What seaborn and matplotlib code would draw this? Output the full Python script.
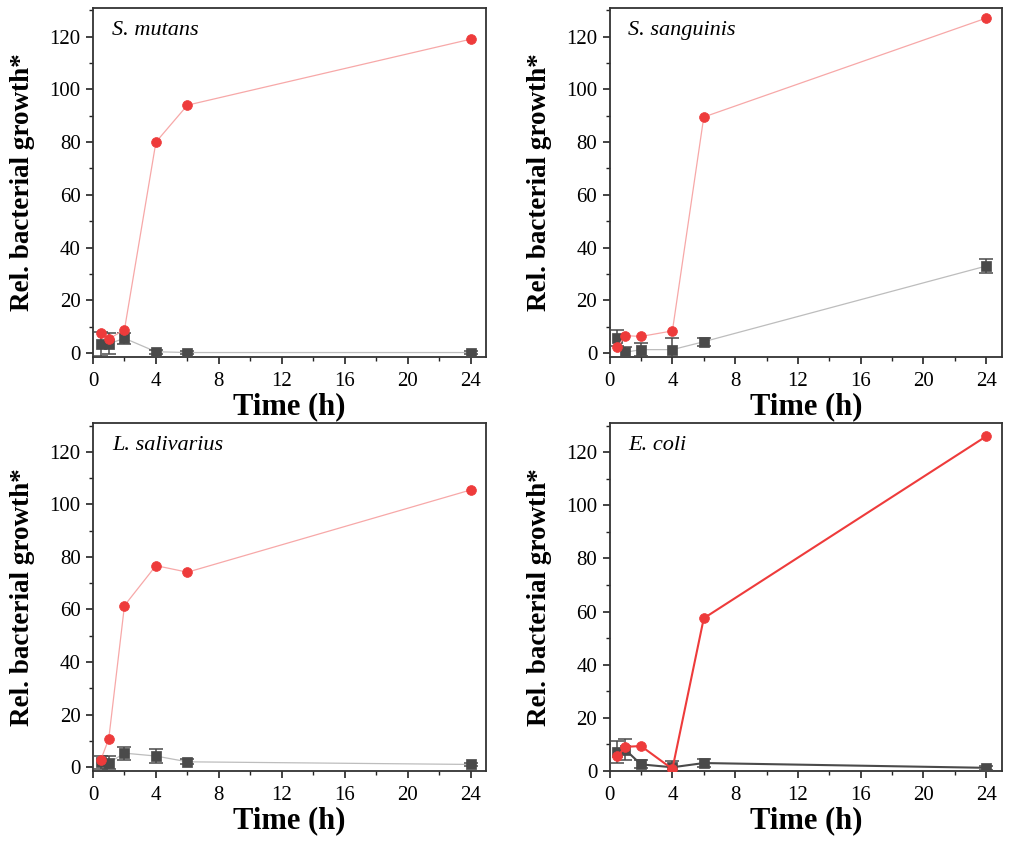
import numpy as np
import pandas as pd
import matplotlib
matplotlib.use("Agg")
import matplotlib.pyplot as plt
import seaborn as sns
from matplotlib.ticker import MultipleLocator

sns.set_theme(style="ticks")
plt.rcParams['font.family'] = ['Liberation Serif', 'DejaVu Serif']
plt.rcParams['text.color'] = 'black'
plt.rcParams['axes.labelcolor'] = 'black'

time_h = [0.5, 1, 2, 4, 6, 24]
species = ["S. mutans", "S. sanguinis", "L. salivarius", "E. coli"]

red_mutans = [7.6, 5.3, 8.9, 80.0, 94.0, 119.0]
gray_mutans = [3.3, 3.5, 5.6, 0.5, 0.2, 0.2]
gray_mutans_err = [4.5, 4.0, 2.0, 0.8, 0.6, 0.5]

red_sanguinis = [2.3, 6.6, 6.3, 8.4, 89.5, 127.0]
gray_sanguinis = [5.8, 0.3, 1.3, 1.3, 4.3, 33.0]
gray_sanguinis_err = [3.0, 2.0, 2.5, 4.5, 1.5, 2.5]

red_salivarius = [2.8, 10.7, 61.5, 76.7, 74.2, 105.5]
gray_salivarius = [1.9, 1.6, 5.3, 4.2, 2.0, 1.0]
gray_salivarius_err = [2.5, 2.5, 2.5, 2.5, 1.0, 0.7]

red_ecoli = [5.5, 9.1, 9.4, 0.75, 57.5, 126.0]
gray_ecoli = [7.2, 8.0, 2.5, 1.4, 3.0, 1.2]
gray_ecoli_err = [4.0, 4.0, 1.5, 2.5, 1.5, 0.8]

panels = [
    (species[0], red_mutans, gray_mutans, gray_mutans_err),
    (species[1], red_sanguinis, gray_sanguinis, gray_sanguinis_err),
    (species[2], red_salivarius, gray_salivarius, gray_salivarius_err),
    (species[3], red_ecoli, gray_ecoli, gray_ecoli_err),
]

RED = "#EE3B3B"
DARK = "#4A4A4A"

fig = plt.figure(figsize=(10.11, 8.43), dpi=100)
positions = [
    [0.092, 0.5765, 0.389, 0.4145],
    [0.603, 0.5765, 0.388, 0.4145],
    [0.092, 0.0854, 0.389, 0.4128],
    [0.603, 0.0854, 0.388, 0.4128],
]

for i, (name, red, gray, gerr) in enumerate(panels):
    ax = fig.add_axes(positions[i])
    strong = (i == 3)
    red_line = RED if strong else "#F7A8A8"
    gray_line = DARK if strong else "#BDBDBD"
    lw = 1.5 if strong else 0.9
    df_g = pd.DataFrame({"t": time_h, "v": gray})
    df_r = pd.DataFrame({"t": time_h, "v": red})
    sns.lineplot(data=df_g, x="t", y="v", ax=ax, color=gray_line, lw=lw, zorder=2)
    ax.errorbar(time_h, gray, yerr=gerr, fmt="none", ecolor=DARK, elinewidth=1.1,
                capsize=5, capthick=1.1, zorder=3)
    sns.scatterplot(data=df_g, x="t", y="v", ax=ax, marker="s", s=55, color=DARK,
                    edgecolor=DARK, linewidth=0.5, zorder=4)
    sns.lineplot(data=df_r, x="t", y="v", ax=ax, color=red_line, lw=lw, zorder=5)
    sns.scatterplot(data=df_r, x="t", y="v", ax=ax, marker="o", s=50, color=RED,
                    edgecolor=RED, linewidth=0.5, zorder=6)

    ax.set_xlim(0, 25)
    if strong:
        ax.set_ylim(0, 131)
    else:
        ax.set_ylim(-1.5, 131)
    ax.set_xticks([0, 4, 8, 12, 16, 20, 24])
    ax.xaxis.set_minor_locator(MultipleLocator(2))
    ax.set_yticks([0, 20, 40, 60, 80, 100, 120])
    ax.yaxis.set_minor_locator(MultipleLocator(10))
    ax.tick_params(which="major", direction="out", length=5, width=1.2,
                   labelsize=15, colors="#222222", labelcolor="black")
    ax.tick_params(axis="x", which="major", pad=6)
    ax.tick_params(axis="y", which="major", pad=4)
    ax.tick_params(which="minor", direction="out", length=3, width=1.0, colors="#222222")
    for sp in ax.spines.values():
        sp.set_linewidth(1.3)
        sp.set_color("#333333")
    ax.set_xlabel("Time (h)", fontsize=22, fontweight="bold", labelpad=1)
    ax.set_ylabel("Rel. bacterial growth*", fontsize=19.5, fontweight="bold", labelpad=10)
    ax.text(0.048, 0.935, name, transform=ax.transAxes, fontsize=16,
            fontstyle="italic", va="center", ha="left", color="black")

fig.savefig("out.png", dpi=100)
